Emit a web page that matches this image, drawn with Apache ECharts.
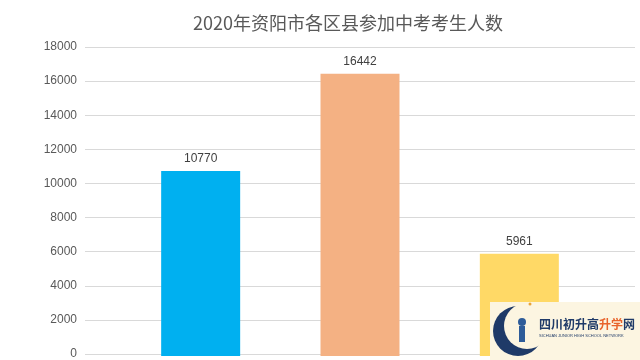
<!DOCTYPE html>
<html>
<head>
<meta charset="utf-8">
<script src="https://cdn.jsdelivr.net/npm/echarts@6/dist/echarts.min.js"></script>
<style>
  html, body { margin: 0; padding: 0; background: #ffffff; }
  #chart { width: 640px; height: 360px; }
</style>
</head>
<body>
<div id="chart"></div>
<script>
// 2020年资阳市各区县参加中考考生人数
const titleText = '2020年资阳市各区县参加中考考生人数';
const districts = ['雁江区', '安岳县', '乐至县'];
const examinees = [10770, 16442, 5961];
const barColors = ['#00B0F0', '#F4B183', '#FFD966'];
const yTicks = { min: 0, max: 18000, interval: 2000 };

const chart = echarts.init(document.getElementById('chart'), null, { renderer: 'canvas' });

const numFont = '"Liberation Sans", "Noto Sans", sans-serif';

chart.setOption({
  backgroundColor: '#ffffff',
  animation: false,
  title: {
    text: titleText,
    left: 343,
    textAlign: 'center',
    top: 9,
    textStyle: {
      fontFamily: '"Noto Sans CJK SC", sans-serif',
      fontSize: 18,
      fontWeight: 'normal',
      color: '#595959'
    }
  },
  grid: [
    // value axis with gridlines across the whole plot area
    { left: 85, right: 5, top: 47, bottom: 4 },
    // bars sit in a slightly narrower band
    { left: 121, right: 41, top: 47, bottom: 4 }
  ],
  xAxis: [
    { type: 'category', gridIndex: 0, data: [''], show: false },
    {
      type: 'category', gridIndex: 1, data: districts,
      axisLine: { show: false }, axisTick: { show: false },
      axisLabel: { show: false }
    }
  ],
  yAxis: [
    {
      type: 'value', gridIndex: 0,
      min: yTicks.min, max: yTicks.max, interval: yTicks.interval,
      axisLine: { show: false }, axisTick: { show: false },
      axisLabel: {
        color: '#595959', fontSize: 12, fontFamily: numFont, margin: 8,
        formatter: v => String(v)
      },
      splitLine: { lineStyle: { color: '#D9D9D9', width: 1 } }
    },
    {
      type: 'value', gridIndex: 1,
      min: yTicks.min, max: yTicks.max, interval: yTicks.interval,
      show: false, splitLine: { show: false }
    }
  ],
  series: [{
    type: 'bar',
    xAxisIndex: 1,
    yAxisIndex: 1,
    barWidth: 79,
    data: examinees.map((v, i) => ({ value: v, itemStyle: { color: barColors[i] } })),
    label: {
      show: true,
      position: 'top',
      distance: 6,
      color: '#404040',
      fontSize: 12,
      fontFamily: numFont
    }
  }],
  graphic: [
    // site badge in the lower right corner
    { type: 'rect', shape: { x: 490, y: 302, width: 150, height: 58 }, style: { fill: '#FCF5E1' }, z: 100 },
    { type: 'circle', shape: { cx: 518, cy: 331, r: 25 }, style: { fill: '#1F3A68' }, z: 101 },
    { type: 'circle', shape: { cx: 527, cy: 326, r: 23 }, style: { fill: '#FCF5E1' }, z: 102 },
    { type: 'circle', shape: { cx: 522, cy: 322, r: 4 }, style: { fill: '#2E5C99' }, z: 103 },
    { type: 'rect', shape: { x: 519, y: 326, width: 6, height: 16 }, style: { fill: '#2E5C99' }, z: 103 },
    { type: 'circle', shape: { cx: 530, cy: 304, r: 1.5 }, style: { fill: '#E8A33A' }, z: 103 },
    {
      type: 'text', x: 539, y: 318, z: 103,
      style: {
        text: '四川初升高', fill: '#1F3A68',
        font: 'bold 12px "Noto Sans CJK SC", sans-serif'
      }
    },
    {
      type: 'text', x: 599, y: 318, z: 103,
      style: {
        text: '升学', fill: '#E8632B',
        font: 'bold 12px "Noto Sans CJK SC", sans-serif'
      }
    },
    {
      type: 'text', x: 623, y: 318, z: 103,
      style: {
        text: '网', fill: '#1F3A68',
        font: 'bold 12px "Noto Sans CJK SC", sans-serif'
      }
    },
    {
      type: 'text', x: 539, y: 334, z: 103,
      style: {
        text: 'SICHUAN JUNIOR HIGH SCHOOL NETWORK', fill: '#1F3A68',
        font: '4px "Liberation Sans", sans-serif'
      }
    }
  ]
});
</script>
</body>
</html>
